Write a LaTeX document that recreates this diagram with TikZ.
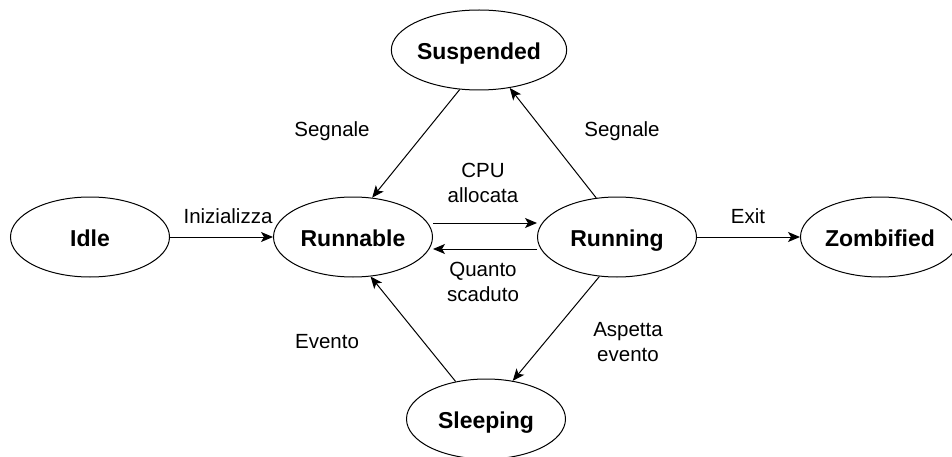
\documentclass[tikz,border=0pt]{standalone}
\usepackage{fontspec}
\setmainfont{Liberation Sans}
\usetikzlibrary{arrows.meta, shapes.geometric}

\begin{document}
\begin{tikzpicture}[x=1pt, y=-1pt,
    state/.style={ellipse, draw, line width=1pt, minimum width=159pt, minimum height=80pt,
      inner sep=0pt, text height=19pt, text depth=0pt,
      font=\fontsize{23}{27}\selectfont\bfseries},
    trans/.style={line width=1pt, -{Stealth[length=12pt, width=10pt, inset=3pt]}},
    lbl/.style={align=center, font=\fontsize{20.5}{25.5}\selectfont}]
  \useasboundingbox (0,0) rectangle (952,457);

  % States
  \node[state] (idle) at (90,237) {Idle};
  \node[state] (runnable) at (353,237) {Runnable};
  \node[state] (running) at (617,237) {Running};
  \node[state] (zombified) at (880,237) {Zombified};
  \node[state] (suspended) at (479,50) {Suspended};
  \node[state] (sleeping) at (486,419) {Sleeping};

  % Horizontal transitions
  \draw[trans] (idle.east) -- (runnable.west);
  \draw[trans] ([yshift=14pt]runnable.east) -- ([yshift=14pt]running.west);
  \draw[trans] ([yshift=-12pt]running.west) -- ([yshift=-12pt]runnable.east);
  \draw[trans] (running.east) -- (zombified.west);

  % Diagonal transitions
  \draw[trans] (suspended.244) -- (runnable.64);
  \draw[trans] (running.118) -- (suspended.309);
  \draw[trans] (running.246) -- (sleeping.55);
  \draw[trans] (sleeping.129) -- (runnable.294);

  % Labels
  \node[lbl] (lblinit) at (228,216) {Inizializza};
  \node[lbl] (lblcpu) at (483,183) {CPU\\allocata};
  \node[lbl] (lblquanto) at (483,282) {Quanto\\scaduto};
  \node[lbl] (lblexit) at (748,216) {Exit};
  \node[lbl] (lblsegl) at (332,131) {Segnale};
  \node[lbl] (lblsegr) at (622,131) {Segnale};
  \node[lbl] (lblevento) at (327,342) {Evento};
  \node[lbl] (lblaspetta) at (628,342) {Aspetta\\evento};
\end{tikzpicture}
\end{document}
